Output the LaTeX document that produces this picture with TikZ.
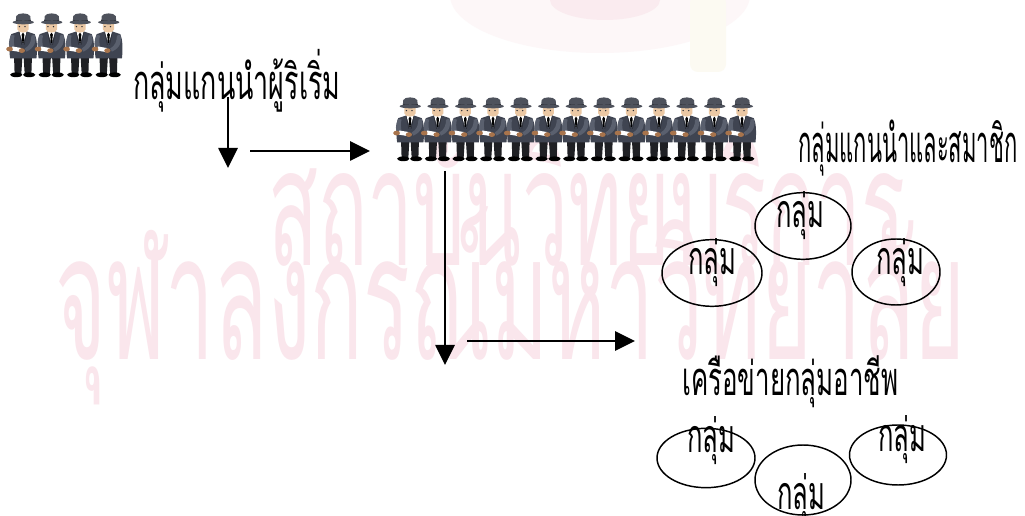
\documentclass[tikz,border=0pt]{standalone}
\usepackage{fontspec}
\usepackage{graphicx}
\usetikzlibrary{arrows.meta,shapes.geometric}
\newfontfamily\thai[Script=Thai,FakeStretch=0.55]{Loma}
\newfontfamily\thainarrow[Script=Thai,FakeStretch=0.42]{Loma}
\newfontfamily\thaiwide[Script=Thai,FakeStretch=0.5]{Loma}
\newcommand{\fitw}[2]{\resizebox{#1}{!}{\thai #2}}
\newcommand{\fitn}[2]{\resizebox{#1}{!}{\thainarrow #2}}
\newcommand{\fitwm}[2]{\resizebox{#1}{!}{\thaiwide #2}}
\definecolor{suit}{HTML}{3F4451}
\definecolor{suitlight}{HTML}{5A606E}
\definecolor{hatc}{HTML}{4E525C}
\definecolor{hatband}{HTML}{2A2C33}
\definecolor{skin}{HTML}{EBC8A4}
\definecolor{handc}{HTML}{A8744C}
\definecolor{trouser}{HTML}{1F2024}
\definecolor{wm}{HTML}{FAE6EC}
\definecolor{wmlogo}{HTML}{FDF7F8}
\definecolor{wmlogoin}{HTML}{FAEBEF}
\definecolor{wmpillar}{HTML}{FCFAF2}
\tikzset{
  arr/.style={line width=1.2pt,-{Triangle[length=15pt,width=14.5pt]}},
  grp/.style={draw,ellipse,line width=1.1pt,inner sep=0pt},
  lbl/.style={inner sep=0pt,anchor=base},
  txt/.style={inner sep=0pt,anchor=base west},
  man/.pic={
    % trousers and shoes
    \fill[trouser] (-8,42) -- (-0.5,42) -- (-1.5,59) -- (-7.5,59) -- cycle;
    \fill[trouser] (0.5,42) -- (8,42) -- (7.5,59) -- (1.5,59) -- cycle;
    \fill[black] (-6,60) ellipse [x radius=5.5, y radius=2.3];
    \fill[black] (5.5,60) ellipse [x radius=5.5, y radius=2.3];
    % jacket
    \fill[suit] (-10.5,20.5) -- (-3.5,18) -- (3.5,18) -- (10.5,20.5)
      .. controls (12.5,25) and (13,34) .. (12,44) -- (-11.5,44)
      .. controls (-12.5,36) and (-12.5,25) .. (-10.5,20.5) -- cycle;
    % shirt and tie
    \fill[white] (-3.5,18) -- (3.5,18) -- (0,29) -- cycle;
    \fill[black] (0,19) -- (1.2,21) -- (0.5,29) -- (-0.5,29) -- (-1.2,21) -- cycle;
    \draw[hatband,line width=0.4pt] (-3.5,18) -- (-1,31) (3.5,18) -- (1,31);
    % sleeves
    \fill[suitlight] (-10.5,21) .. controls (-13.5,28) and (-13,33) .. (-10.5,36)
      -- (-7,35) .. controls (-8.5,30) and (-8.5,25) .. (-7.5,22) -- cycle;
    \fill[suitlight] (10.5,21) .. controls (12.5,27) and (10.5,34) .. (3,37.5)
      -- (1.5,34.5) .. controls (6,32) and (7.5,27) .. (7.5,22) -- cycle;
    % paper and hands
    \fill[white] (-9.5,32.5) -- (-1.5,34) -- (-2,38) -- (-10,36.5) -- cycle;
    \fill[handc] (-12,35) ellipse [x radius=3, y radius=2.3];
    \fill[handc] (-1,36.5) ellipse [x radius=2.8, y radius=2.3];
    % head
    \fill[skin] (-5,10) -- (5,10) -- (5,16) .. controls (4,20) and (-4,20) .. (-5,16) -- cycle;
    \fill[hatband] (-3.2,13.2) circle [radius=0.7] (1.8,13.2) circle [radius=0.7];
    % hat
    \fill[hatc] (-6.5,9) -- (-6,3) .. controls (-5,-0.5) and (5,-0.5) .. (6.5,3) -- (7,9) -- cycle;
    \fill[hatband] (-6.4,6.5) rectangle (6.9,8.4);
    \fill[hatc] (0.3,9) ellipse [x radius=9.5, y radius=2];
  },
  person/.style={xscale=1.12,yscale=1.03}
}
\begin{document}
\begin{tikzpicture}[x=0.75pt,y=-0.75pt]
\useasboundingbox (0,0) rectangle (1025,516);
\fill[white] (0,0) rectangle (1025,516);

% faint background lettering and crest
\fill[wmlogo] (600,-5) ellipse [x radius=150, y radius=58];
\fill[wmlogoin] (605,0) ellipse [x radius=55, y radius=20];
\fill[wmpillar,rounded corners=6pt] (690,-5) rectangle (726,72);
\node[txt,text=wm] (wm1) at (268,266) {\fitwm{478pt}{สถาบันวิทยบริการ}};
\node[txt,text=wm] (wm2) at (55,360) {\fitwm{682pt}{จุฬาลงกรณ์มหาวิทยาลัย}};

% founding leaders
\foreach \k in {0,...,3}
  \pic[person] (lead\k) at ({23+28.5*\k},13) {man};
\node[txt] (founders) at (133,100) {\fitw{155.25pt}{กลุ่มแกนนำผู้ริเริ่ม}};

% leaders and members
\foreach \k in {0,...,12}
  \pic[person] (memb\k) at ({410+27.67*\k},97) {man};
\node[txt] (members) at (798,163) {\fitn{164.25pt}{กลุ่มแกนนำและสมาชิก}};

% arrows
\coordinate (a1s) at (228,97);  \coordinate (a1e) at (228,168);
\coordinate (a2s) at (250,151); \coordinate (a2e) at (370,151);
\coordinate (a3s) at (445,171); \coordinate (a3e) at (445,365);
\coordinate (a4s) at (467,341); \coordinate (a4e) at (635,341);
\draw[arr] (a1s) -- (a1e);
\draw[arr] (a2s) -- (a2e);
\draw[arr] (a3s) -- (a3e);
\draw[arr] (a4s) -- (a4e);

% groups formed by members
\node[grp,minimum width=72pt,minimum height=50pt] (g1) at (803,226) {};
\node[grp,minimum width=75pt,minimum height=50pt] (g2) at (712,273) {};
\node[grp,minimum width=66pt,minimum height=49.5pt] (g3) at (896,272) {};
\node[lbl] (l1) at (800,228) {\fitw{36pt}{กลุ่ม}};
\node[lbl] (l2) at (712,275) {\fitw{36pt}{กลุ่ม}};
\node[lbl] (l3) at (900,275) {\fitw{36pt}{กลุ่ม}};

% occupational group network
\node[txt] (network) at (682,396) {\fitw{162pt}{เครือข่ายกลุ่มอาชีพ}};
\node[grp,minimum width=73.5pt,minimum height=44.5pt] (g4) at (706,458) {};
\node[grp,minimum width=72pt,minimum height=52.5pt] (g5) at (803,480) {};
\node[grp,minimum width=72.75pt,minimum height=45pt] (g6) at (898,455) {};
\node[lbl] (l4) at (711,453) {\fitw{36pt}{กลุ่ม}};
\node[lbl] (l5) at (801,509) {\fitw{36pt}{กลุ่ม}};
\node[lbl] (l6) at (902,452) {\fitw{36pt}{กลุ่ม}};
\end{tikzpicture}
\end{document}
